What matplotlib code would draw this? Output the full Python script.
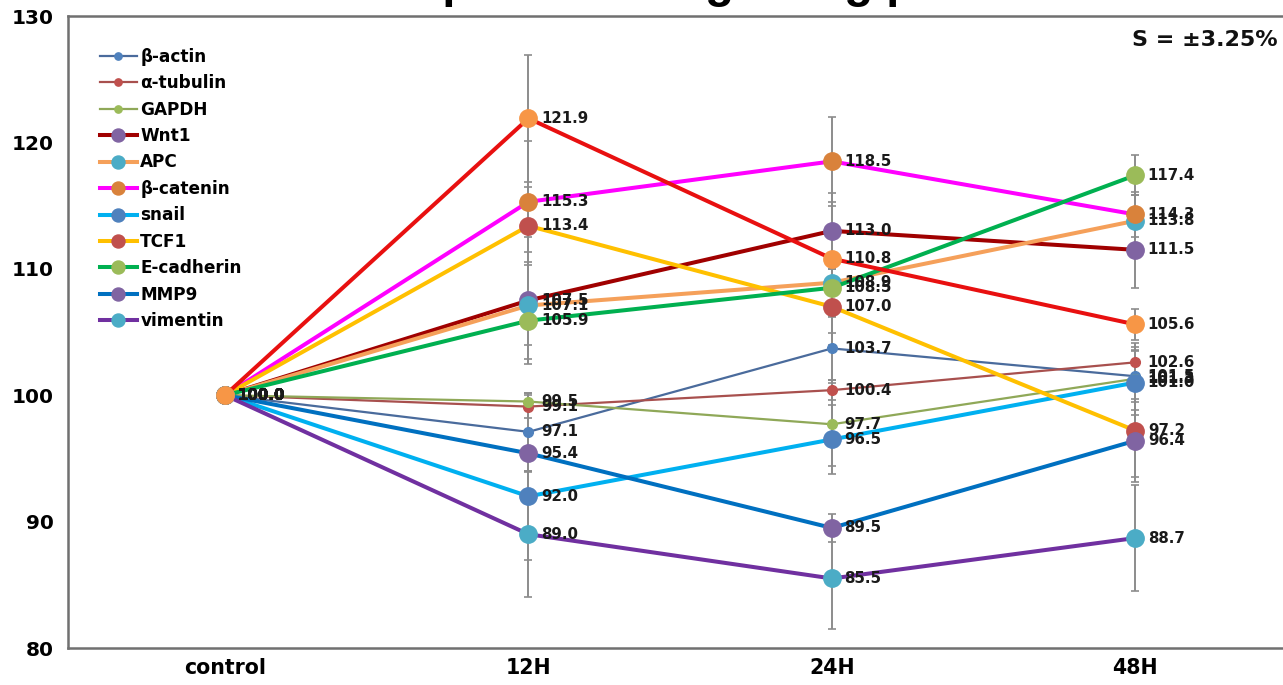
import matplotlib
matplotlib.use("Agg")
import matplotlib.pyplot as plt

plt.rcParams["font.family"] = ["DejaVu Sans"]
plt.rcParams["font.weight"] = "bold"

categories = ["control", "12H", "24H", "48H"]

# mean relative expression (% of control) and error at each time point
names = ["β-actin", "α-tubulin", "GAPDH", "Wnt1", "APC", "β-catenin",
         "snail", "TCF1", "E-cadherin", "MMP9", "vimentin", "_series12"]

beta_actin = [100.0, 97.1, 103.7, 101.5]
alpha_tubulin = [100.0, 99.1, 100.4, 102.6]
gapdh = [100.0, 99.5, 97.7, 101.3]
wnt1 = [100.0, 107.5, 113.0, 111.5]
apc = [100.0, 107.1, 108.9, 113.8]
beta_catenin = [100.0, 115.3, 118.5, 114.3]
snail = [100.0, 92.0, 96.5, 101.0]
tcf1 = [100.0, 113.4, 107.0, 97.2]
e_cadherin = [100.0, 105.9, 108.5, 117.4]
mmp9 = [100.0, 95.4, 89.5, 96.4]
vimentin = [100.0, 89.0, 85.5, 88.7]
series12 = [100.0, 121.9, 110.8, 105.6]

err_beta_actin = [0, 3.1, 2.5, 2.0]
err_alpha_tubulin = [0, 0.9, 0.8, 1.5]
err_gapdh = [0, 0.7, 3.3, 2.5]
err_wnt1 = [0, 5.0, 3.0, 3.0]
err_apc = [0, 4.2, 4.0, 2.0]
err_beta_catenin = [0, 4.8, 3.5, 1.8]
err_snail = [0, 5.0, 2.7, 2.6]
err_tcf1 = [0, 3.1, 3.0, 3.7]
err_e_cadherin = [0, 1.9, 2.0, 1.6]
err_mmp9 = [0, 1.5, 1.1, 3.3]
err_vimentin = [0, 5.0, 4.0, 4.2]
err_series12 = [0, 5.0, 4.5, 1.2]

values = [beta_actin, alpha_tubulin, gapdh, wnt1, apc, beta_catenin,
          snail, tcf1, e_cadherin, mmp9, vimentin, series12]
errors = [err_beta_actin, err_alpha_tubulin, err_gapdh, err_wnt1, err_apc,
          err_beta_catenin, err_snail, err_tcf1, err_e_cadherin, err_mmp9,
          err_vimentin, err_series12]

line_colors = ["#4A6B9C", "#A8504E", "#8FA858", "#A00000", "#F5A05A", "#FF00FF",
               "#00B0F0", "#FFC000", "#00B050", "#0070C0", "#7030A0", "#E81010"]
marker_colors = ["#4F81BD", "#C0504D", "#9BBB59", "#8064A2", "#4BACC6", "#D9823B",
                 "#4F81BD", "#C0504D", "#9BBB59", "#8064A2", "#4BACC6", "#F79646"]
thin = [True, True, True] + [False] * 9

fig = plt.figure(figsize=(12.83, 6.85), dpi=100)
ax = fig.add_axes([68 / 1283, 37 / 685, 1219 / 1283, 632 / 685])

x = list(range(len(categories)))
for vals, errs, lc, mc, is_thin, name in zip(values, errors, line_colors,
                                              marker_colors, thin, names):
    ax.errorbar(x[1:], vals[1:], yerr=errs[1:], fmt="none", ecolor="#8C8C8C",
                elinewidth=1.4, capsize=3, capthick=1.2, zorder=1.5)
    ax.plot(x, vals, color=lc, lw=1.6 if is_thin else 2.9,
            marker="o", ms=7 if is_thin else 12.5, mfc=mc, mec=mc,
            label=name, zorder=2)
    for xi, v in zip(x, vals):
        ax.annotate(f"{v:.1f}", (xi, v), xytext=(9, 0), textcoords="offset points",
                    ha="left", va="center", fontsize=10.8, color="#1a1a1a",
                    zorder=4)

ax.set_xlim(-157 / 303.3, 3.5)
ax.set_ylim(80, 130)
ax.set_yticks([80, 90, 100, 110, 120, 130])
ax.set_xticks(x)
ax.set_xticklabels(categories)
ax.tick_params(axis="x", length=0, labelsize=14.8, pad=7)
ax.tick_params(axis="y", length=0, labelsize=14.5, pad=10)
for sp in ax.spines.values():
    sp.set_color("#707070")
    sp.set_linewidth(1.8)

leg = ax.legend(loc="upper left", bbox_to_anchor=(0.026, 0.95), frameon=False,
                fontsize=12.2, handlelength=2.2, handletextpad=0.2,
                labelspacing=0.5, borderpad=0, borderaxespad=0, markerscale=0.75)

ax.text(0.9926, 0.962, "S = ±3.25%", transform=ax.transAxes, ha="right",
        va="center", fontsize=16, color="#111111")

# heading sits above the frame; only its lowest strokes fall inside the canvas
fig.text(340 / 1283, 1 + 3 / 685, "Wnt/β-catenin signaling proteins",
         family=["Liberation Sans", "DejaVu Sans"], fontweight="bold",
         fontsize=34, ha="left", va="baseline", color="black")

fig.savefig("out.png", dpi=100)
